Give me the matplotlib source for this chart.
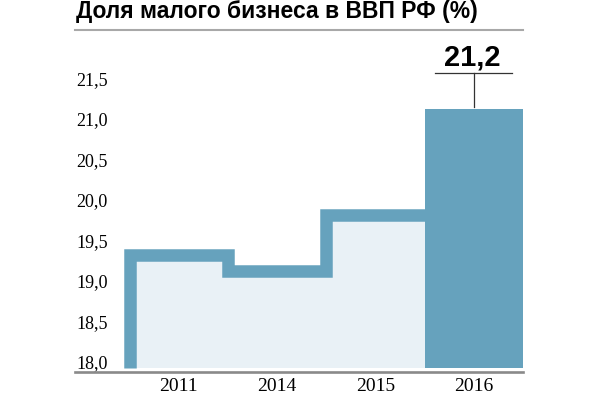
import numpy as np
import matplotlib
matplotlib.use("Agg")
import matplotlib.pyplot as plt
from matplotlib.lines import Line2D

# Data
years = ["2011", "2014", "2015", "2016"]
shares = [19.4, 19.2, 19.9, 21.2]
yticks = [18.0, 18.5, 19.0, 19.5, 20.0, 20.5, 21.0, 21.5]
ytick_labels = ["18,0", "18,5", "19,0", "19,5", "20,0", "20,5", "21,0", "21,5"]
highlight_label = "21,2"

dark = "#66a2bd"
light = "#e9f1f6"

fig = plt.figure(figsize=(6, 3.93), dpi=100)
ax = fig.add_axes([0.125, 0.0527, 0.747, 0.7437])

x = np.arange(len(years))
base = 18.0

# light fill under the step line (first three years)
edges = np.append(x[:3] - 0.5, x[2] + 0.5)
vals = shares[:3] + [shares[2]]
ax.fill_between(edges, base, vals, step="post", color=light, lw=0, zorder=1)

# thick stepped band
sx = [x[0] - 0.5]
sy = [base]
for i in range(3):
    sx += [x[i] - 0.5, x[i] + 0.5]
    sy += [shares[i], shares[i]]
ax.plot(sx, sy, color=dark, lw=9, solid_joinstyle="miter",
        solid_capstyle="butt", zorder=2)

# last year as a solid bar
ax.bar(x[3], shares[3] - base, bottom=base, width=1.0, color=dark, lw=0, zorder=3)

# callout for the last value
top = shares[3]
ax.plot([x[3], x[3]], [top + 0.03, top + 0.445], color="#333333", lw=0.9,
        clip_on=False, zorder=4)
ax.plot([x[3] - 0.398, x[3] + 0.391], [top + 0.445, top + 0.445],
        color="#333333", lw=0.9, clip_on=False, zorder=4)
ax.text(x[3] - 0.02, top + 0.547, highlight_label, ha="center", va="baseline",
        fontsize=21, fontweight="bold", family="Liberation Sans",
        clip_on=False)

ax.set_xlim(-1.054, 3.5)
ax.set_ylim(17.951, 21.562)

for s in ["top", "right", "left"]:
    ax.spines[s].set_visible(False)
ax.spines["bottom"].set_color("#8a8a8a")
ax.spines["bottom"].set_linewidth(1.9)

ax.set_yticks(yticks)
ax.set_yticklabels(ytick_labels, family="Liberation Serif", fontsize=13,
                   ha="left", va="baseline")
ax.tick_params(axis="y", length=0, pad=-1)

ax.set_xticks(x)
ax.set_xticklabels(years, family="Liberation Serif", fontsize=14)
ax.tick_params(axis="x", length=0, pad=4)

# title and rule
fig.text(76 / 600, 0.954, "Доля малого бизнеса в ВВП РФ (%)",
         family="Liberation Sans", fontweight="bold", fontsize=16.5,
         ha="left", va="baseline")
fig.add_artist(Line2D([75 / 600, 523 / 600], [0.9237, 0.9237],
                      color="#a8a8a8", lw=1.5))

fig.savefig("out.png", dpi=100)
